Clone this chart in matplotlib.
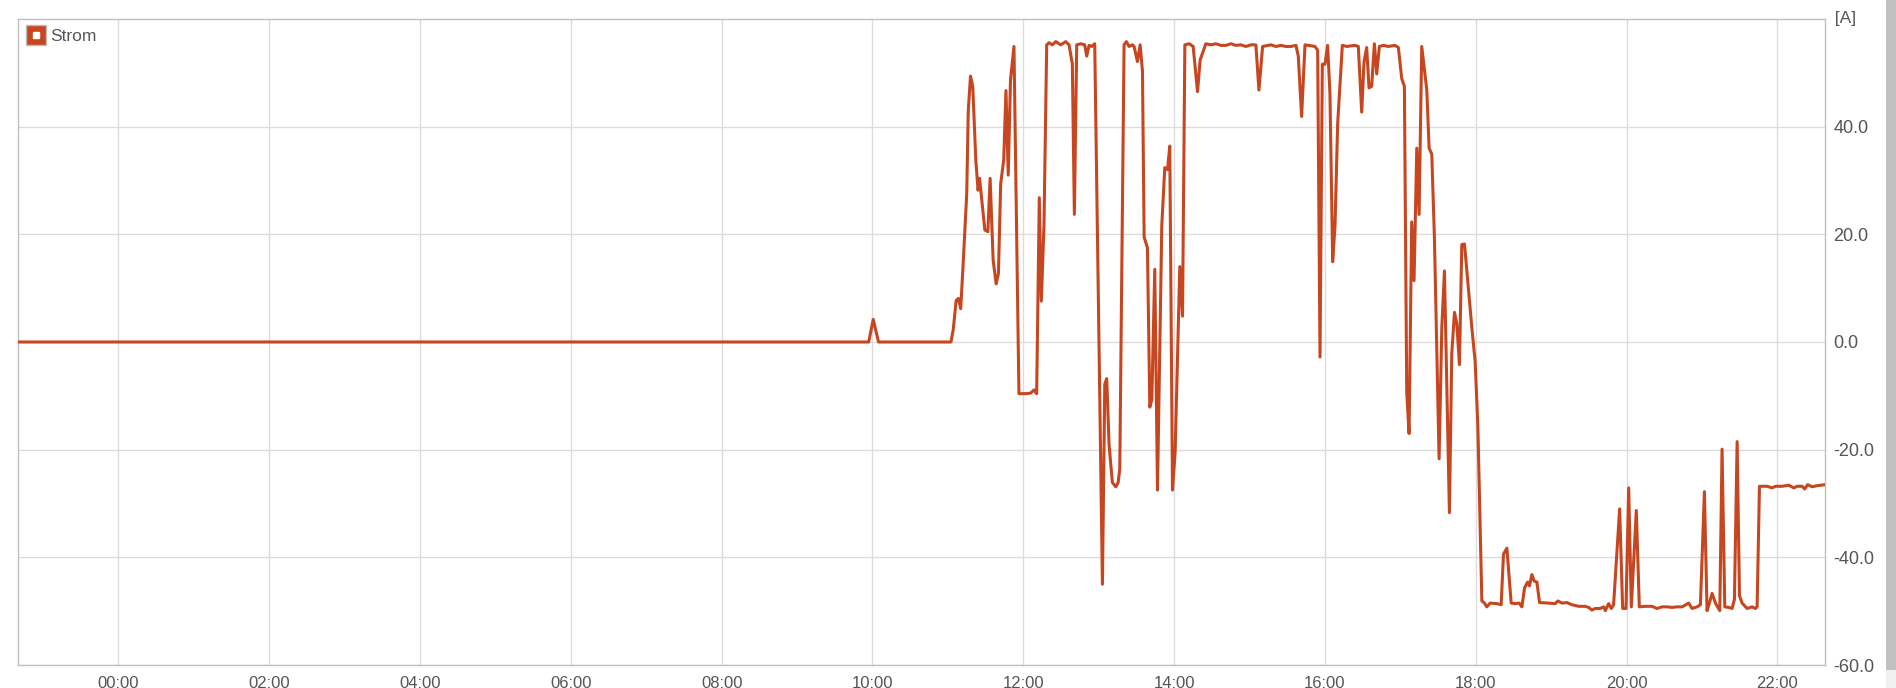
import matplotlib
matplotlib.use("Agg")
import matplotlib.pyplot as plt
from matplotlib.lines import Line2D
from matplotlib.legend_handler import HandlerTuple
from matplotlib.patches import Rectangle
from matplotlib.ticker import FixedLocator, FuncFormatter

# time in hours (negative = previous evening), current in A
t_hours = [-1.33, 9.95, 10.01, 10.08, 11.04, 11.07, 11.11, 11.14, 11.17, 11.20,
           11.25, 11.27, 11.30, 11.33, 11.37, 11.40, 11.42, 11.49, 11.53, 11.56,
           11.60, 11.64, 11.67, 11.70, 11.74, 11.77, 11.80, 11.83, 11.876, 11.942,
           12.031, 12.097, 12.142, 12.177, 12.212, 12.239, 12.274, 12.310, 12.341, 12.385,
           12.429, 12.496, 12.562, 12.606, 12.650, 12.677, 12.708, 12.761, 12.814, 12.841,
           12.872, 12.907, 12.947, 13.049, 13.080, 13.106, 13.137, 13.181, 13.226, 13.257,
           13.279, 13.336, 13.367, 13.403, 13.447, 13.469, 13.513, 13.549, 13.580, 13.602,
           13.646, 13.677, 13.704, 13.743, 13.779, 13.836, 13.876, 13.912, 13.942, 13.978,
           14.013, 14.075, 14.111, 14.142, 14.199, 14.252, 14.310, 14.345, 14.420, 14.487,
           14.553, 14.619, 14.686, 14.752, 14.819, 14.885, 14.951, 15.018, 15.084, 15.124,
           15.173, 15.283, 15.350, 15.416, 15.482, 15.549, 15.615, 15.646, 15.690, 15.735,
           15.867, 15.903, 15.934, 15.965, 16.000, 16.035, 16.066, 16.102, 16.133, 16.168,
           16.230, 16.288, 16.398, 16.442, 16.487, 16.518, 16.553, 16.584, 16.619, 16.655,
           16.686, 16.721, 16.774, 16.841, 16.929, 16.973, 17.018, 17.053, 17.084, 17.115,
           17.150, 17.181, 17.217, 17.248, 17.283, 17.350, 17.381, 17.416, 17.451, 17.513,
           17.549, 17.584, 17.650, 17.681, 17.717, 17.748, 17.783, 17.814, 17.850, 17.881,
           17.947, 17.991, 18.027, 18.080, 18.115, 18.146, 18.190, 18.279, 18.336, 18.367,
           18.412, 18.469, 18.522, 18.575, 18.611, 18.646, 18.686, 18.712, 18.743, 18.774,
           18.810, 18.845, 18.965, 19.053, 19.088, 19.142, 19.208, 19.274, 19.363, 19.451,
           19.496, 19.540, 19.584, 19.650, 19.695, 19.717, 19.761, 19.796, 19.827, 19.907,
           19.947, 19.991, 20.027, 20.062, 20.128, 20.168, 20.248, 20.336, 20.403, 20.469,
           20.535, 20.602, 20.668, 20.735, 20.823, 20.867, 20.934, 20.978, 21.031, 21.066,
           21.097, 21.133, 21.177, 21.235, 21.265, 21.301, 21.354, 21.398, 21.429, 21.465,
           21.496, 21.531, 21.597, 21.664, 21.708, 21.730, 21.761, 21.863, 21.929, 21.973,
           22.062, 22.150, 22.217, 22.261, 22.327, 22.36, 22.40, 22.46, 22.52, 22.63]

amps = [0.0, 0.0, 4.2, 0.0, 0.0, 2.2, 7.7, 8.1, 6.2, 13.9,
        27.6, 43.0, 49.4, 47.4, 33.8, 28.2, 30.4, 20.8, 20.5, 30.4,
        15.2, 10.8, 12.7, 29.4, 33.8, 46.7, 31.0, 48.7, 54.9, -9.6,
        -9.6, -9.5, -8.9, -9.6, 26.8, 7.6, 21.6, 55.2, 55.6, 55.2,
        55.8, 55.2, 55.8, 55.2, 51.7, 23.7, 55.2, 55.4, 55.2, 53.1,
        55.1, 54.9, 55.4, -45.0, -7.8, -6.8, -19.1, -26.1, -26.9, -26.1,
        -23.6, 55.2, 55.8, 54.9, 55.2, 54.9, 52.1, 55.2, 50.3, 19.5,
        17.5, -12.1, -10.7, 13.5, -27.5, 21.6, 32.4, 32.0, 36.4, -27.5,
        -20.5, 14.0, 4.8, 55.2, 55.4, 54.9, 46.5, 52.4, 55.4, 55.2,
        55.4, 55.1, 55.1, 55.4, 55.1, 55.2, 54.9, 55.2, 55.2, 46.8,
        54.9, 55.2, 54.9, 55.1, 54.9, 54.9, 55.1, 53.1, 41.9, 55.2,
        54.9, 54.2, -2.8, 51.6, 51.6, 55.1, 46.1, 14.9, 21.6, 40.5,
        55.1, 54.9, 55.1, 54.9, 42.7, 52.1, 54.7, 47.2, 47.5, 55.4,
        49.8, 54.9, 55.1, 54.9, 55.1, 54.7, 48.9, 47.5, -9.3, -17.0,
        22.3, 11.4, 36.0, 23.7, 54.9, 46.8, 36.0, 34.9, 19.5, -21.7,
        2.7, 13.2, -31.7, -2.2, 5.5, 3.4, -4.2, 18.1, 18.2, 13.2,
        2.7, -3.6, -15.6, -48.1, -48.5, -49.2, -48.5, -48.6, -48.8, -39.4,
        -38.3, -48.5, -48.6, -48.5, -49.2, -45.7, -44.6, -45.3, -43.2, -44.4,
        -44.6, -48.4, -48.5, -48.6, -48.1, -48.5, -48.4, -48.8, -49.1, -49.1,
        -49.3, -49.8, -49.5, -49.5, -49.2, -49.9, -48.6, -49.5, -48.8, -31.0,
        -49.5, -49.5, -27.1, -49.2, -31.3, -49.2, -49.1, -49.1, -49.5, -49.2,
        -49.2, -49.3, -49.2, -49.2, -48.5, -49.5, -49.2, -48.8, -27.8, -49.9,
        -48.5, -46.7, -48.5, -49.9, -19.9, -49.2, -49.3, -49.5, -47.8, -18.5,
        -47.1, -48.5, -49.5, -49.2, -49.5, -49.2, -26.8, -26.8, -27.1, -26.8,
        -26.8, -26.6, -27.1, -26.8, -26.8, -27.3, -26.5, -26.9, -26.7, -26.5]

x_ticks = [0, 2, 4, 6, 8, 10, 12, 14, 16, 18, 20, 22]
y_ticks = [-60, -40, -20, 0, 20, 40]
x_range = (-1.33, 22.63)
y_range = (-60, 60)

line_col = "#c8461f"
grid_col = "#dcdcdc"
frame_col = "#c0c0c0"
text_col = "#555555"
font = ["Liberation Sans", "DejaVu Sans"]

plt.rcParams["font.family"] = font

fig = plt.figure(figsize=(18.96, 6.88), dpi=100)
ax = fig.add_axes([18 / 1896, 23 / 688, 1807 / 1896, 646 / 688])

ax.plot(t_hours, amps, color=line_col, lw=2.2, solid_joinstyle="round", zorder=3)

ax.set_xlim(*x_range)
ax.set_ylim(*y_range)

ax.xaxis.set_major_locator(FixedLocator(x_ticks))
ax.xaxis.set_major_formatter(FuncFormatter(lambda v, p: "%02d:00" % int(round(v))))
ax.yaxis.set_major_locator(FixedLocator(y_ticks))
ax.yaxis.set_major_formatter(FuncFormatter(lambda v, p: "%.1f" % v))
ax.yaxis.tick_right()

ax.grid(True, color=grid_col, lw=1, zorder=0)
ax.tick_params(axis="both", length=0, labelcolor=text_col)
ax.tick_params(axis="x", pad=8, labelsize=12)
ax.tick_params(axis="y", pad=6, labelsize=13)
for s in ax.spines.values():
    s.set_color(frame_col)
    s.set_linewidth(1)

ax.text(1.0, 1.0, "  [A]", transform=ax.transAxes, ha="left", va="center",
        fontsize=12.5, color=text_col)

outer = Line2D([], [], ls="none", marker="s", markersize=15, markerfacecolor=line_col,
               markeredgecolor="#bbbbbb", markeredgewidth=1)
inner = Line2D([], [], ls="none", marker="s", markersize=4.5, markerfacecolor="white",
               markeredgecolor="white")
ax.legend([(outer, inner)], ["Strom"], handler_map={tuple: HandlerTuple(ndivide=1)},
          loc="upper left", bbox_to_anchor=(0.0, 1.0), frameon=False,
          fontsize=12.5, labelcolor=text_col,
          handlelength=1.0, handletextpad=0.3, borderpad=0.3, borderaxespad=0.25)

# browser scrollbar at the right edge of the screenshot
fig.patches.append(Rectangle((1886 / 1896, 0), 10 / 1896, 1, transform=fig.transFigure,
                             facecolor="#f1f1f1", edgecolor="none"))
fig.patches.append(Rectangle((1886 / 1896, 1 - 670 / 688), 10 / 1896, 670 / 688,
                             transform=fig.transFigure, facecolor="#c1c1c1",
                             edgecolor="none"))

fig.savefig("out.png", dpi=100)
